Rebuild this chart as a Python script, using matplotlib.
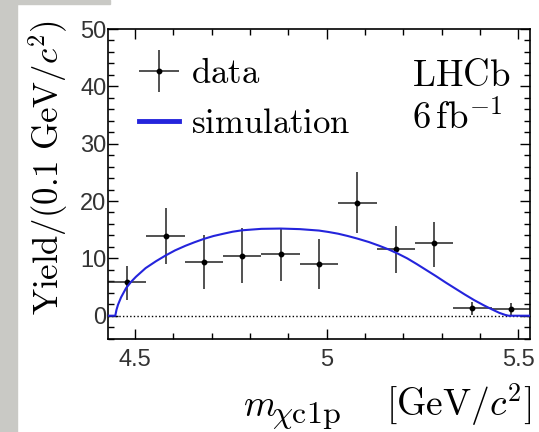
import matplotlib
matplotlib.use('Agg')
import matplotlib.pyplot as plt
from matplotlib.patches import Rectangle
from matplotlib.ticker import MultipleLocator, FixedLocator
from matplotlib.legend_handler import HandlerErrorbar
from matplotlib.container import ErrorbarContainer

plt.rcParams['mathtext.fontset'] = 'cm'

# binned data: bin centres [GeV/c^2], yields and (asymmetric) errors
mass = [4.48, 4.58, 4.68, 4.78, 4.88, 4.98, 5.08, 5.18, 5.28, 5.38, 5.48]
yields = [5.9, 13.9, 9.3, 10.5, 10.8, 9.0, 19.7, 11.6, 12.6, 1.3, 1.2]
err_lo = [3.2, 4.9, 4.6, 4.8, 4.7, 4.4, 5.2, 4.1, 4.1, 1.25, 1.2]
err_hi = [2.8, 4.9, 4.7, 4.8, 4.5, 4.4, 5.3, 4.1, 3.8, 1.15, 1.1]
bin_half = 0.05

# simulation curve
sim_mass = [4.43, 4.449, 4.452, 4.456, 4.464, 4.477, 4.49, 4.503, 4.528, 4.555,
            4.58, 4.605, 4.632, 4.655, 4.68, 4.705, 4.731, 4.755, 4.78, 4.83,
            4.88, 4.93, 4.98, 5.005, 5.03, 5.055, 5.08, 5.11, 5.137, 5.16,
            5.185, 5.21, 5.235, 5.26, 5.285, 5.31, 5.335, 5.36, 5.385, 5.41,
            5.431, 5.45, 5.465, 5.474, 5.53]
sim_yield = [0, 0, 1.0, 1.9, 3.2, 4.8, 5.9, 6.8, 8.3, 9.5,
             10.5, 11.4, 12.2, 12.8, 13.4, 13.9, 14.3, 14.65, 14.9, 15.15,
             15.2, 15.1, 14.85, 14.6, 14.3, 13.9, 13.45, 12.85, 12.2, 11.6,
             10.85, 10.0, 9.0, 7.95, 6.9, 5.8, 4.75, 3.7, 2.7, 1.8,
             1.1, 0.5, 0.15, 0, 0]

x_ticks = [4.5, 5.0, 5.5]
x_ticklabels = ['4.5', '5', '5.5']
y_ticks = [0, 10, 20, 30, 40, 50]

W, H = 539, 432
fig = plt.figure(figsize=(W / 100, H / 100), dpi=100)

# grey screenshot border
fig.patches.append(Rectangle((0, 0), 17 / W, 1, transform=fig.transFigure,
                             color='#c9c9c5', zorder=0))
fig.patches.append(Rectangle((0, 1 - 4 / H), 110 / W, 4 / H, transform=fig.transFigure,
                             color='#c9c9c5', zorder=0))

ax = fig.add_axes([108 / W, 1 - 339 / H, (530 - 108) / W, (339 - 29) / H])

ax.axhline(0, color='black', ls=(0, (1.0, 1.6)), lw=1.0, zorder=1)
eb = ax.errorbar(mass, yields, xerr=bin_half, yerr=[err_lo, err_hi], fmt='o',
                 ms=3.2, color='black', ecolor='#222222', elinewidth=1.1,
                 capsize=0, zorder=2, label=r'$\mathrm{data}$')
sim, = ax.plot(sim_mass, sim_yield, color='#2424dc', lw=1.5, zorder=3,
               label=r'$\mathrm{simulation}$')

ax.set_xlim(4.43, 5.53)
ax.set_ylim(-4.06, 50)

ax.xaxis.set_major_locator(FixedLocator(x_ticks))
ax.set_xticklabels(x_ticklabels)
ax.xaxis.set_minor_locator(MultipleLocator(0.1))
ax.yaxis.set_major_locator(FixedLocator(y_ticks))
ax.yaxis.set_minor_locator(MultipleLocator(2))
ax.tick_params(which='both', direction='in', top=True, right=True, width=1.0,
               labelsize=17, labelcolor='#333333')
ax.tick_params(which='major', length=7.5)
ax.tick_params(which='minor', length=4.5)
ax.tick_params(axis='y', pad=1)
ax.tick_params(axis='x', pad=7)
for lab in ax.get_xticklabels() + ax.get_yticklabels():
    lab.set_family('Liberation Sans')
for sp in ax.spines.values():
    sp.set_linewidth(1.2)

leg = ax.legend([eb, sim], [r'$\mathrm{data}$', r'$\mathrm{simulation}$'],
                loc='upper left', bbox_to_anchor=(0.074, 0.912), frameon=False,
                fontsize=25, handlelength=1.15, handletextpad=0.35,
                labelspacing=0.45, borderpad=0, borderaxespad=0,
                handler_map={ErrorbarContainer: HandlerErrorbar(xerr_size=0.57, yerr_size=0.6)})
leg.get_lines()[-1].set_linewidth(3.5)

ax.text(412 / W, 1 - 86 / H, r'$\mathrm{LHCb}$', transform=fig.transFigure,
        fontsize=26.5, ha='left', va='baseline')
ax.text(412 / W, 1 - 129 / H, r'$6\,\mathrm{fb}^{-1}$', transform=fig.transFigure,
        fontsize=26.5, ha='left', va='baseline')

# x-axis title: m with a large subscript, then the unit
fig.text(531 / W, 1 - 416 / H, r'$[\mathrm{GeV}/c^{2}]$',
         fontsize=27, ha='right', va='baseline')
fig.text(243 / W, 1 - 416 / H, r'$m$', fontsize=27, ha='left', va='baseline')
fig.text(272 / W, 1 - 423 / H, r'$\chi\mathrm{c1p}$', fontsize=23, ha='left', va='baseline')

fig.text(48 / W, 1 - 20 / H, r'$\mathrm{Yield}/(0.1\ \mathrm{GeV}/c^{2})$',
         fontsize=25, rotation=90, ha='center', va='top')

fig.savefig('out.png', dpi=100)
